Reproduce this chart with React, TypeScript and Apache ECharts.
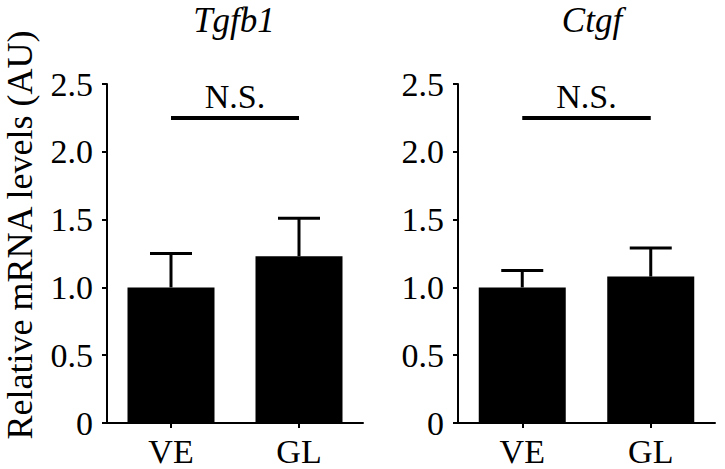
import React, { useEffect, useRef } from "react";
import * as echarts from "echarts";

const categories = ["VE", "GL"];
const panelTitles = ["Tgfb1", "Ctgf"];
const tgfb1Means = [1.0, 1.23];
const tgfb1Errors = [0.25, 0.28];
const ctgfMeans = [1.0, 1.08];
const ctgfErrors = [0.125, 0.21];
const sigLabels = ["N.S.", "N.S."];
const sigLevel = 2.25;
const sigTextLevel = 2.41;
const yTicks = [0, 0.5, 1.0, 1.5, 2.0, 2.5];
const yAxisName = "Relative mRNA levels (AU)";

const FONT = "Liberation Serif";

export default function App() {
  const ref = useRef<HTMLDivElement>(null);
  useEffect(() => {
    if (!ref.current) return;
    const chart = echarts.init(ref.current, null, { renderer: "svg" });
    const means = [tgfb1Means, ctgfMeans];
    const errs = [tgfb1Errors, ctgfErrors];

    const grids = [
      { left: 107, top: 84, width: 256, height: 339 },
      { left: 458, top: 84, width: 257, height: 339 },
    ];

    const xAxes = grids.map((_, i) => ({
      type: "category",
      gridIndex: i,
      data: categories,
      axisLine: { show: true, lineStyle: { color: "#000", width: 2 } },
      axisTick: { show: true, alignWithLabel: true, length: 5, lineStyle: { color: "#000", width: 2 } },
      axisLabel: { color: "#000", fontFamily: FONT, fontSize: 34, margin: 11 },
    }));

    const yAxes = grids.map((_, i) => ({
      type: "value",
      gridIndex: i,
      min: yTicks[0],
      max: yTicks[yTicks.length - 1],
      interval: 0.5,
      splitLine: { show: false },
      axisLine: { show: true, lineStyle: { color: "#000", width: 2 } },
      axisTick: { show: true, length: 5, lineStyle: { color: "#000", width: 2 } },
      axisLabel: {
        color: "#000",
        fontFamily: FONT,
        fontSize: 34,
        margin: 14,
        formatter: (v: number) => (v === 0 ? "0" : v.toFixed(1)),
      },
    }));

    const series: any[] = [];
    grids.forEach((_, i) => {
      series.push({
        type: "bar",
        xAxisIndex: i,
        yAxisIndex: i,
        data: means[i],
        barWidth: 87,
        itemStyle: { color: "#000" },
        z: 2,
      });
      series.push({
        type: "custom",
        xAxisIndex: i,
        yAxisIndex: i,
        data: means[i].map((m, j) => [j, m, errs[i][j]]),
        encode: { x: 0, y: 1 },
        z: 3,
        renderItem: (params: any, api: any) => {
          const x = api.value(0);
          const m = api.value(1);
          const e = api.value(2);
          const p0 = api.coord([x, m]);
          const p1 = api.coord([x, m + e]);
          const half = 21;
          const style = { stroke: "#000", lineWidth: 3 };
          return {
            type: "group",
            children: [
              { type: "line", shape: { x1: p0[0], y1: p0[1], x2: p1[0], y2: p1[1] }, style },
              { type: "line", shape: { x1: p1[0] - half, y1: p1[1], x2: p1[0] + half, y2: p1[1] }, style },
            ],
          };
        },
      });
      series.push({
        type: "custom",
        xAxisIndex: i,
        yAxisIndex: i,
        data: [[0, 1, sigLevel, sigTextLevel]],
        encode: { x: 0, y: 2 },
        z: 4,
        renderItem: (params: any, api: any) => {
          const a = api.coord([api.value(0), api.value(2)]);
          const b = api.coord([api.value(1), api.value(2)]);
          const t = api.coord([api.value(0), api.value(3)]);
          return {
            type: "group",
            children: [
              {
                type: "line",
                shape: { x1: a[0], y1: a[1], x2: b[0], y2: b[1] },
                style: { stroke: "#000", lineWidth: 4 },
              },
              {
                type: "text",
                x: (a[0] + b[0]) / 2,
                y: t[1],
                style: {
                  text: sigLabels[i],
                  fill: "#000",
                  fontFamily: FONT,
                  fontSize: 34,
                  textAlign: "center",
                  textVerticalAlign: "middle",
                },
              },
            ],
          };
        },
      });
    });

    const textStyle = (size: number, italic: boolean) => ({
      fill: "#000",
      fontFamily: FONT,
      fontSize: size,
      fontStyle: italic ? "italic" : "normal",
      textAlign: "center",
      textVerticalAlign: "middle",
    });

    chart.setOption({
      animation: false,
      backgroundColor: "#fff",
      grid: grids,
      xAxis: xAxes,
      yAxis: yAxes,
      series,
      graphic: [
        { type: "text", x: 234, y: 20, style: { text: panelTitles[0], ...textStyle(35, true) } },
        { type: "text", x: 592, y: 20, style: { text: panelTitles[1], ...textStyle(35, true) } },
        { type: "text", x: 20, y: 235, rotation: Math.PI / 2, style: { text: yAxisName, ...textStyle(36, false) } },
      ],
    });
    return () => chart.dispose();
  }, []);
  return <div ref={ref} style={{ width: 725, height: 469, position: "absolute", left: 0, top: 0 }} />;
}
